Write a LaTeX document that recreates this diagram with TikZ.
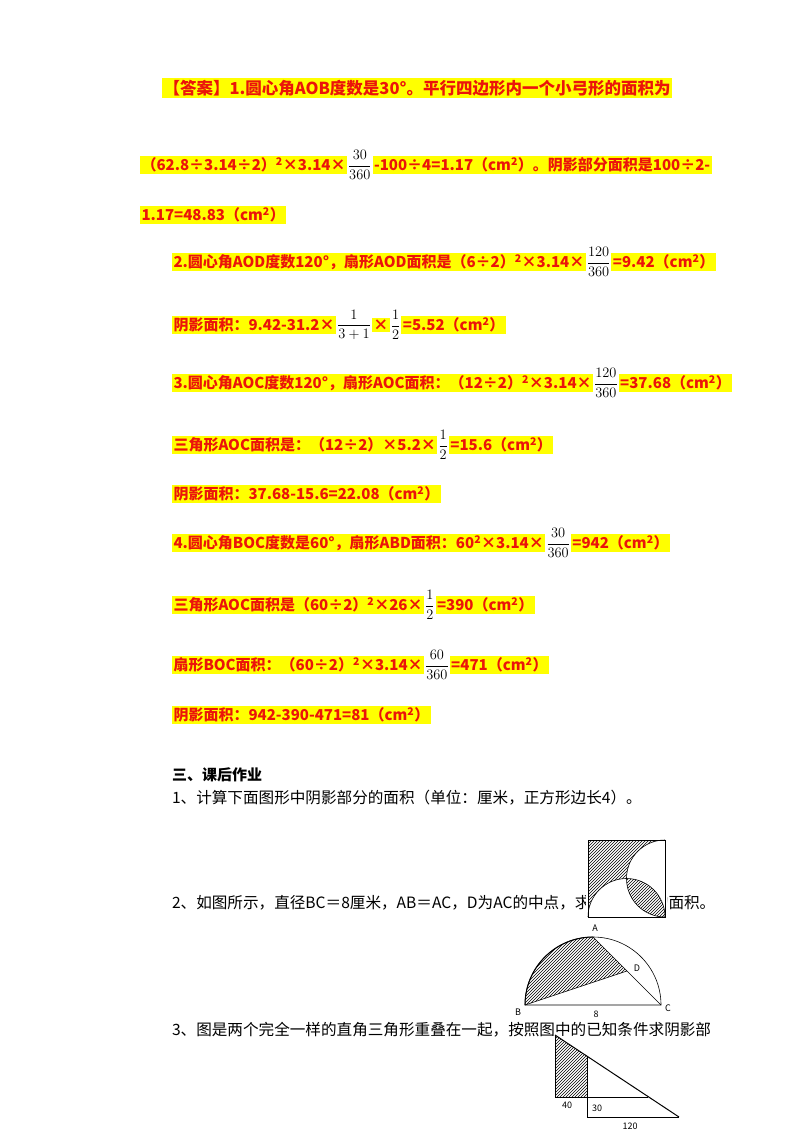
\documentclass[tikz,border=0pt]{standalone}
\usepackage{amsmath}
\usepackage{fontspec}
\setmainfont{Noto Sans CJK SC}
\usetikzlibrary{patterns,positioning}
\definecolor{ared}{RGB}{235,20,10}
\definecolor{hy}{RGB}{255,255,0}
\newcommand{\sq}{\textsuperscript{2}}
\begin{document}
\begin{tikzpicture}[x=1pt,y=-1pt,
  every node/.style={inner sep=0pt,outer sep=0pt},
  hl/.style={fill=hy,text=ared,font=\fontsize{15}{15}\selectfont\bfseries,inner sep=1.5pt,anchor=west},
  fr/.style={font=\fontsize{15}{15}\selectfont,anchor=west,inner xsep=1pt},
  body/.style={font=\fontsize{15.6}{15.6}\selectfont,anchor=west},
  fig/.style={line width=0.6pt},
  sh/.style={pattern=north east lines}]
\useasboundingbox (0,0) rectangle (800,1132);
% answer rows
\node[hl,font=\fontsize{16.5}{16.5}\selectfont\bfseries] (r1) at (162,88) {【答案】1.圆心角AOB度数是30°。平行四边形内一个小弓形的面积为};
\node[hl] (r2a) at (140,165) {（62.8÷3.14÷2）\sq×3.14×};
\node[fr,right=0 of r2a] (r2f) {$\dfrac{30}{360}$};
\node[hl,right=0 of r2f] (r2b) {-100÷4=1.17（cm\sq）。阴影部分面积是100÷2-};
\node[hl] (r3) at (140,215) {1.17=48.83（cm\sq）};
\node[hl] (r4a) at (172,262) {2.圆心角AOD度数120°，扇形AOD面积是（6÷2）\sq×3.14×};
\node[fr,right=0 of r4a] (r4f) {$\dfrac{120}{360}$};
\node[hl,right=0 of r4f] (r4b) {=9.42（cm\sq）};
\node[hl] (r5a) at (172,325) {阴影面积：9.42-31.2×};
\node[fr,right=0 of r5a] (r5f) {$\dfrac{1}{3+1}$};
\node[hl,right=0 of r5f] (r5b) {×};
\node[fr,right=0 of r5b] (r5g) {$\dfrac{1}{2}$};
\node[hl,right=0 of r5g] (r5c) {=5.52（cm\sq）};
\node[hl] (r6a) at (172,383) {3.圆心角AOC度数120°，扇形AOC面积：（12÷2）\sq×3.14×};
\node[fr,right=0 of r6a] (r6f) {$\dfrac{120}{360}$};
\node[hl,right=0 of r6f] (r6b) {=37.68（cm\sq）};
\node[hl] (r7a) at (172,445) {三角形AOC面积是：（12÷2）×5.2×};
\node[fr,right=0 of r7a] (r7f) {$\dfrac{1}{2}$};
\node[hl,right=0 of r7f] (r7b) {=15.6（cm\sq）};
\node[hl] (r8) at (172,494) {阴影面积：37.68-15.6=22.08（cm\sq）};
\node[hl] (r9a) at (172,543) {4.圆心角BOC度数是60°，扇形ABD面积：60\sq×3.14×};
\node[fr,right=0 of r9a] (r9f) {$\dfrac{30}{360}$};
\node[hl,right=0 of r9f] (r9b) {=942（cm\sq）};
\node[hl] (r10a) at (172,605) {三角形AOC面积是（60÷2）\sq×26×};
\node[fr,right=0 of r10a] (r10f) {$\dfrac{1}{2}$};
\node[hl,right=0 of r10f] (r10b) {=390（cm\sq）};
\node[hl] (r11a) at (172,665) {扇形BOC面积：（60÷2）\sq×3.14×};
\node[fr,right=0 of r11a] (r11f) {$\dfrac{60}{360}$};
\node[hl,right=0 of r11f] (r11b) {=471（cm\sq）};
\node[hl] (r12) at (172,715) {阴影面积：942-390-471=81（cm\sq）};
% homework
\node[body,font=\fontsize{15}{15}\selectfont\bfseries] (h0) at (172,775) {三、课后作业};
\node[body] (h1) at (172,798) {1、计算下面图形中阴影部分的面积（单位：厘米，正方形边长4）。};
\node[body] (h2) at (172,903) {2、如图所示，直径BC＝8厘米，AB＝AC，D为AC的中点，求阴影部分的面积。};
\node[body] (h3) at (172,1030) {3、图是两个完全一样的直角三角形重叠在一起，按照图中的已知条件求阴影部};
% figure 1: square
\fill[white] (586,838) rectangle (667,919);
\fill[sh] (588,840) rectangle (665,917);
\fill[white] (588,917) arc[start angle=180,end angle=0,x radius=38.5,y radius=-38.5] -- cycle;
\fill[white] (665,840) arc[start angle=90,end angle=270,x radius=38.5,y radius=-38.5] -- cycle;
\begin{scope}
\clip (626.5,917) circle (38.5);
\fill[sh] (665,878.5) circle (38.5);
\end{scope}
\draw[fig] (588,917) arc[start angle=180,end angle=0,x radius=38.5,y radius=-38.5];
\draw[fig] (665,840) arc[start angle=90,end angle=270,x radius=38.5,y radius=-38.5];
\draw[fig] (588,840) rectangle (665,917);
% figure 2: semicircle
\coordinate (B) at (525,1005); \coordinate (C) at (661,1005);
\coordinate (A) at (593,937); \coordinate (D) at (627,971);
\fill[white] (515,925) rectangle (672,1020);
\fill[sh] (B) arc[start angle=180,end angle=90,x radius=68,y radius=-68] -- (D) -- cycle;
\draw[fig] (B) arc[start angle=180,end angle=0,x radius=68,y radius=-68] -- cycle;
\draw[fig] (B) -- (D) -- (A) -- (C);
\draw[line width=1pt] (B) arc[start angle=180,end angle=90,x radius=68,y radius=-68];
\node[font=\itshape\fontsize{9}{9}\selectfont] at (595,928) {A};
\node[font=\itshape\fontsize{9}{9}\selectfont] at (637,968) {D};
\node[font=\itshape\fontsize{9}{9}\selectfont] at (518,1012) {B};
\node[font=\itshape\fontsize{9}{9}\selectfont] at (668,1008) {C};
\node[font=\fontsize{9}{9}\selectfont] at (596,1014) {8};
% figure 3: triangles
\fill[white] (550,1036) rectangle (685,1120);
\coordinate (T) at (555,1035); \coordinate (P) at (555,1097);
\coordinate (Q) at (648,1097); \coordinate (S) at (587,1056);
\coordinate (U) at (587,1117); \coordinate (V) at (679,1117);
\coordinate (W) at (587,1097);
\fill[sh] (T) -- (S) -- (W) -- (P) -- cycle;
\draw[fig] (T) -- (P) -- (Q);
\draw[line width=1pt] (T) -- (V);
\draw[fig] (S) -- (U) -- (V);
\node[font=\fontsize{9}{9}\selectfont] at (567,1105) {40};
\node[font=\fontsize{9}{9}\selectfont] at (597,1108) {30};
\node[font=\fontsize{9}{9}\selectfont] at (630,1126) {120};
\end{tikzpicture}
\end{document}
